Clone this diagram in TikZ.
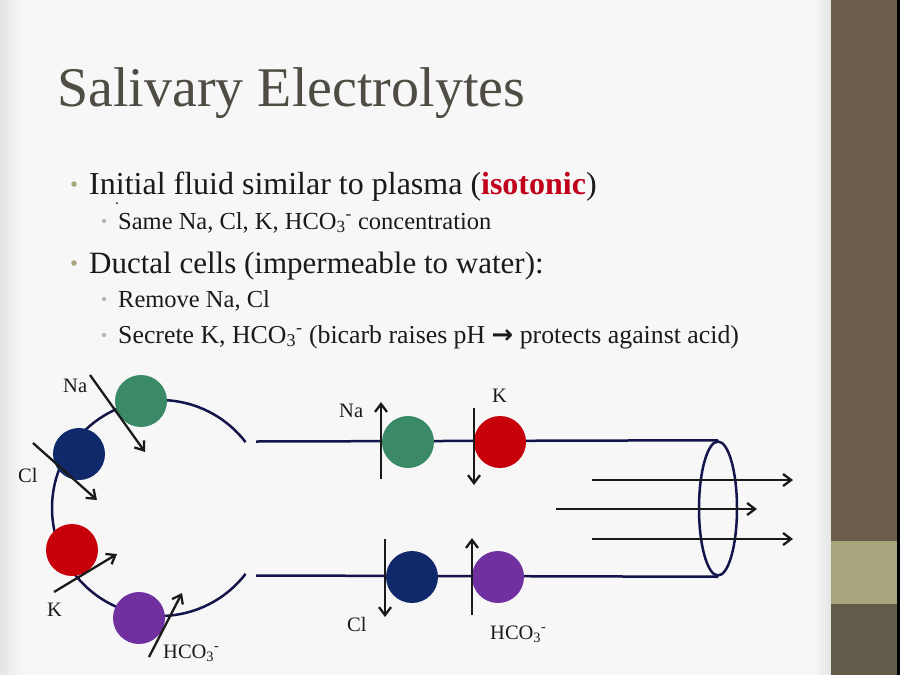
\documentclass[tikz,border=0pt]{standalone}
\usepackage{fontspec}
\setmainfont{Liberation Serif}
\newfontfamily\symfont{DejaVu Sans}
\usetikzlibrary{arrows.meta,shapes.geometric}
\definecolor{slidebg}{HTML}{F7F7F7}
\definecolor{edgegray}{HTML}{E4E4E4}
\definecolor{bartop}{HTML}{6B5E4C}
\definecolor{barbot}{HTML}{625B49}
\definecolor{barband}{HTML}{A8A47C}
\definecolor{titlegray}{HTML}{4E4C43}
\definecolor{bodytext}{HTML}{1A1A1A}
\definecolor{bulletc}{HTML}{A8A47C}
\definecolor{subbullet}{HTML}{B9B9B2}
\definecolor{isored}{HTML}{C0001A}
\definecolor{navy}{HTML}{14144C}
\definecolor{cgreen}{HTML}{3A8A68}
\definecolor{cblue}{HTML}{0F296B}
\definecolor{cred}{HTML}{C8000A}
\definecolor{cpurple}{HTML}{7030A0}
\definecolor{arrowc}{HTML}{1A1A1A}
\newcommand{\hcothree}{HCO\textsubscript{3}\textsuperscript{-}}
\begin{document}
\begin{tikzpicture}[x=1pt,y=-1pt,
  txt/.style={anchor=base west,inner sep=0,text=bodytext},
  mainb/.style={txt,font=\fontsize{31}{36}\selectfont},
  subb/.style={txt,font=\fontsize{24.5}{28}\selectfont},
  dotmain/.style={circle,fill=bulletc,minimum size=5.5,inner sep=0},
  dotsub/.style={circle,fill=subbullet,minimum size=4.5,inner sep=0},
  lbl/.style={txt,font=\fontsize{20.5}{24}\selectfont},
  membrane/.style={draw=navy,line width=2.5},
  cell/.style={circle,minimum size=52,inner sep=0},
  ion/.style={draw=arrowc,line width=2.3,-{Straight Barb[length=8,width=12,line width=2.3]}}
]
\useasboundingbox (0,0) rectangle (900,675);
% background
\fill[slidebg] (0,0) rectangle (831,675);
\shade[left color=edgegray,right color=slidebg] (0,0) rectangle (22,675);
\shade[left color=slidebg,right color=edgegray] (814,0) rectangle (831,675);
\fill[bartop] (831,0) rectangle (897,541);
\fill[barband] (831,541) rectangle (897,604);
\fill[barbot] (831,604) rectangle (897,675);
\fill[black] (897,0) rectangle (900,675);

% title
\node[anchor=base west,inner sep=0,text=titlegray,font=\fontsize{56}{60}\selectfont] (title) at (57,106) {Salivary Electrolytes};

% bullets
\node[dotmain] (d1) at (74,184) {};
\node[mainb,font=\fontsize{32}{36}\selectfont] (b1) at (89,194) {Initial fluid similar to plasma (\textcolor{isored}{\textbf{isotonic}})};
\node[circle,fill=bodytext,minimum size=2,inner sep=0] (stray) at (117,203) {};
\node[dotsub] (d2) at (104,221) {};
\node[subb] (b2) at (118,229) {Same Na, Cl, K, \hcothree\ concentration};
\node[dotmain] (d3) at (74,263) {};
\node[mainb] (b3) at (89,273) {Ductal cells (impermeable to water):};
\node[dotsub] (d4) at (104,299) {};
\node[subb] (b4) at (118,307) {Remove Na, Cl};
\node[dotsub] (d5) at (104,335) {};
\node[subb,font=\fontsize{25.8}{28}\selectfont] (b5) at (118,343) {Secrete K, \hcothree\ (bicarb raises pH {\symfont\bfseries →} protects against acid)};

% acinus
\coordinate (ac) at (160,508);
\draw[membrane] ([shift={(-37.6:108)}]ac) arc[start angle=-37.6,end angle=-322.4,radius=108];

% duct
\node[ellipse,draw=navy,line width=2.5,minimum width=38,minimum height=134,inner sep=0] (mouth) at (718,508.5) {};
\coordinate (dtop) at (256,441.5);
\coordinate (dbot) at (256,575.5);
\draw[membrane] (dtop) -- (mouth.north);
\draw[membrane] (dbot) -- (mouth.south);

% acinar cells
\node[cell,fill=cgreen] (ag) at (141,401) {};
\node[cell,fill=cblue] (ab) at (79,454) {};
\node[cell,fill=cred] (ar) at (72,550) {};
\node[cell,fill=cpurple] (ap) at (139,618) {};

% duct cells
\node[cell,fill=cgreen] (dg) at (408,442) {};
\node[cell,fill=cred] (dr) at (500,442) {};
\node[cell,fill=cblue] (db) at (412,577) {};
\node[cell,fill=cpurple] (dp) at (498,577) {};

% acinar ion arrows
\coordinate (naS) at (90,375);   \coordinate (naE) at (145,452);
\coordinate (clS) at (33,443);   \coordinate (clE) at (97,500);
\coordinate (kS) at (54,592);    \coordinate (kE) at (117,554);
\coordinate (hS) at (149,657);   \coordinate (hE) at (182,593);
\draw[ion] (naS) -- (naE);
\draw[ion] (clS) -- (clE);
\draw[ion] (kS) -- (kE);
\draw[ion] (hS) -- (hE);
\node[lbl] (lna) at (63,392) {Na};
\node[lbl] (lcl) at (18,482) {Cl};
\node[lbl] (lk) at (47,616) {K};
\node[lbl] (lh) at (163,658) {\hcothree};

% duct ion arrows
\coordinate (dnaS) at (381,479);  \coordinate (dnaE) at (381,402);
\coordinate (dkS) at (474,408);   \coordinate (dkE) at (474,485);
\coordinate (dclS) at (385,539);  \coordinate (dclE) at (385,617);
\coordinate (dhS) at (472,615);   \coordinate (dhE) at (472,538);
\draw[ion] (dnaS) -- (dnaE);
\draw[ion] (dkS) -- (dkE);
\draw[ion] (dclS) -- (dclE);
\draw[ion] (dhS) -- (dhE);
\node[lbl] (dlna) at (339,417) {Na};
\node[lbl] (dlk) at (492,402) {K};
\node[lbl] (dlcl) at (347,631) {Cl};
\node[lbl] (dlh) at (490,639) {\hcothree};

% flow arrows
\coordinate (f1S) at (592,480); \coordinate (f1E) at (793,480);
\coordinate (f2S) at (556,509); \coordinate (f2E) at (757,509);
\coordinate (f3S) at (592,539); \coordinate (f3E) at (793,539);
\draw[ion] (f1S) -- (f1E);
\draw[ion] (f2S) -- (f2E);
\draw[ion] (f3S) -- (f3E);
\end{tikzpicture}
\end{document}
